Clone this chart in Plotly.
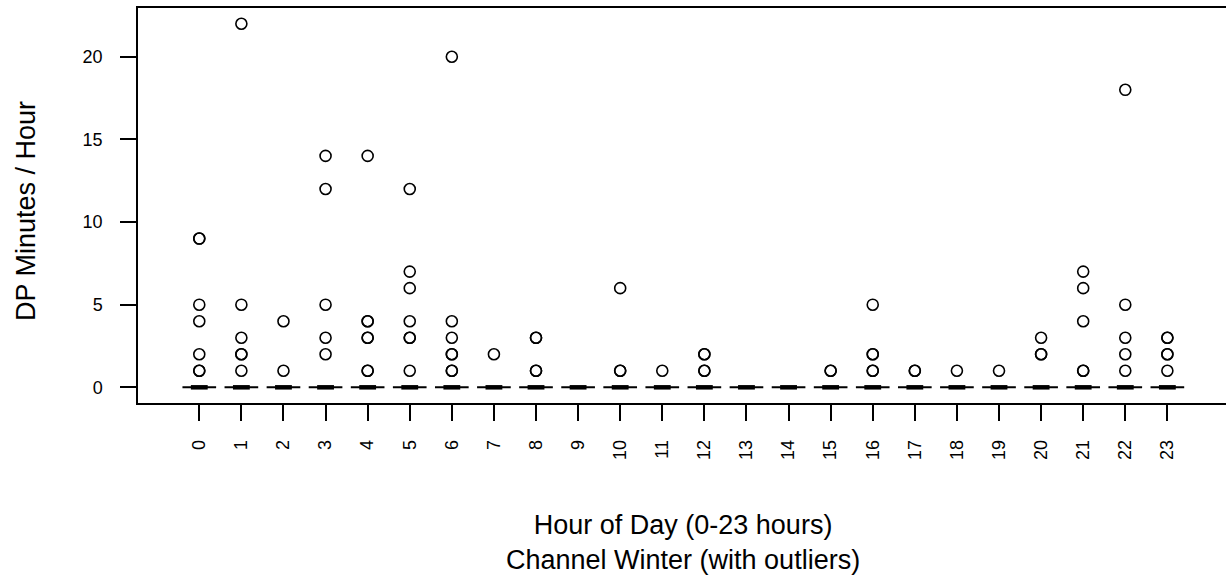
import plotly.graph_objects as go

# Hours of the day (one box per hour)
hours = list(range(24))

# Box statistics per hour (all quartiles collapse to zero)
q1 = [0] * 24
medians = [0] * 24
q3 = [0] * 24
lower_fence = [0] * 24
upper_fence = [0] * 24

# Outlying observations: hour and DP minutes
outlier_hour = [
    0, 0, 0, 0, 0, 0, 0,
    1, 1, 1, 1, 1, 1,
    2, 2,
    3, 3, 3, 3, 3,
    4, 4, 4, 4, 4, 4, 4,
    5, 5, 5, 5, 5, 5, 5,
    6, 6, 6, 6, 6, 6, 6,
    7,
    8, 8, 8, 8,
    10, 10, 10,
    11,
    12, 12, 12, 12,
    15, 15,
    16, 16, 16, 16, 16,
    17, 17,
    18,
    19,
    20, 20, 20,
    21, 21, 21, 21, 21,
    22, 22, 22, 22, 22,
    23, 23, 23, 23, 23,
]
outlier_value = [
    9, 9, 5, 4, 2, 1, 1,
    22, 5, 3, 2, 2, 1,
    4, 1,
    14, 12, 5, 3, 2,
    14, 4, 4, 3, 3, 1, 1,
    12, 7, 6, 4, 3, 3, 1,
    20, 4, 3, 2, 2, 1, 1,
    2,
    3, 3, 1, 1,
    6, 1, 1,
    1,
    2, 2, 1, 1,
    1, 1,
    5, 2, 2, 1, 1,
    1, 1,
    1,
    1,
    3, 2, 2,
    7, 6, 4, 1, 1,
    18, 5, 3, 2, 1,
    3, 3, 2, 2, 1,
]

y_ticks = [0, 5, 10, 15, 20]
x_title = "Hour of Day (0-23 hours)<br>Channel Winter (with outliers)"
y_title = "DP Minutes / Hour"

FONT = "Liberation Sans, Arial, sans-serif"

fig = go.Figure()

# Collapsed boxes
fig.add_trace(go.Box(
    x=hours, q1=q1, median=medians, q3=q3,
    lowerfence=lower_fence, upperfence=upper_fence,
    width=0.8, boxpoints=False,
    line=dict(color="black", width=2),
    fillcolor="rgba(0,0,0,0)",
    showlegend=False, hoverinfo="skip",
))

# Thick median bars
med_x, med_y = [], []
for h, m in zip(hours, medians):
    med_x += [h - 0.2, h + 0.2, None]
    med_y += [m, m, None]
fig.add_trace(go.Scatter(
    x=med_x, y=med_y, mode="lines",
    line=dict(color="black", width=4.5),
    showlegend=False, hoverinfo="skip",
))

# Outliers
fig.add_trace(go.Scatter(
    x=outlier_hour, y=outlier_value, mode="markers",
    marker=dict(symbol="circle-open", size=11, color="black",
                line=dict(color="black", width=1.6)),
    showlegend=False,
))

fig.update_layout(
    width=1226, height=579,
    margin=dict(l=138, r=0, t=8, b=176),
    paper_bgcolor="white", plot_bgcolor="white",
    font=dict(family=FONT, color="black", size=18),
    xaxis=dict(
        range=[-1.456, 24.393],
        tickmode="array", tickvals=hours, ticktext=[str(h) for h in hours],
        tickangle=-90, ticks="outside", ticklen=16, tickwidth=1.5,
        tickcolor="black", ticklabelstandoff=12,
        showline=True, mirror=True, linecolor="black", linewidth=1.5,
        showgrid=False, zeroline=False,
        tickfont=dict(size=18),
    ),
    yaxis=dict(
        range=[-0.949, 22.95],
        tickmode="array", tickvals=y_ticks, ticktext=[str(v) for v in y_ticks],
        ticks="outside", ticklen=16, tickwidth=1.5, tickcolor="black",
        ticklabelstandoff=14,
        showline=True, linecolor="black", linewidth=1.5,
        showgrid=False, zeroline=False,
        tickfont=dict(size=18),
    ),
    annotations=[
        dict(text=x_title, x=11.5, xref="x", y=0, yref="paper",
             xanchor="center", yanchor="middle", yshift=-139,
             showarrow=False, font=dict(size=27, family=FONT, color="black")),
        dict(text=y_title, x=0, xref="paper", y=0.486, yref="paper",
             xanchor="center", yanchor="middle", xshift=-112, textangle=-90,
             showarrow=False, font=dict(size=27, family=FONT, color="black")),
    ],
)

fig.write_html("out.html")
